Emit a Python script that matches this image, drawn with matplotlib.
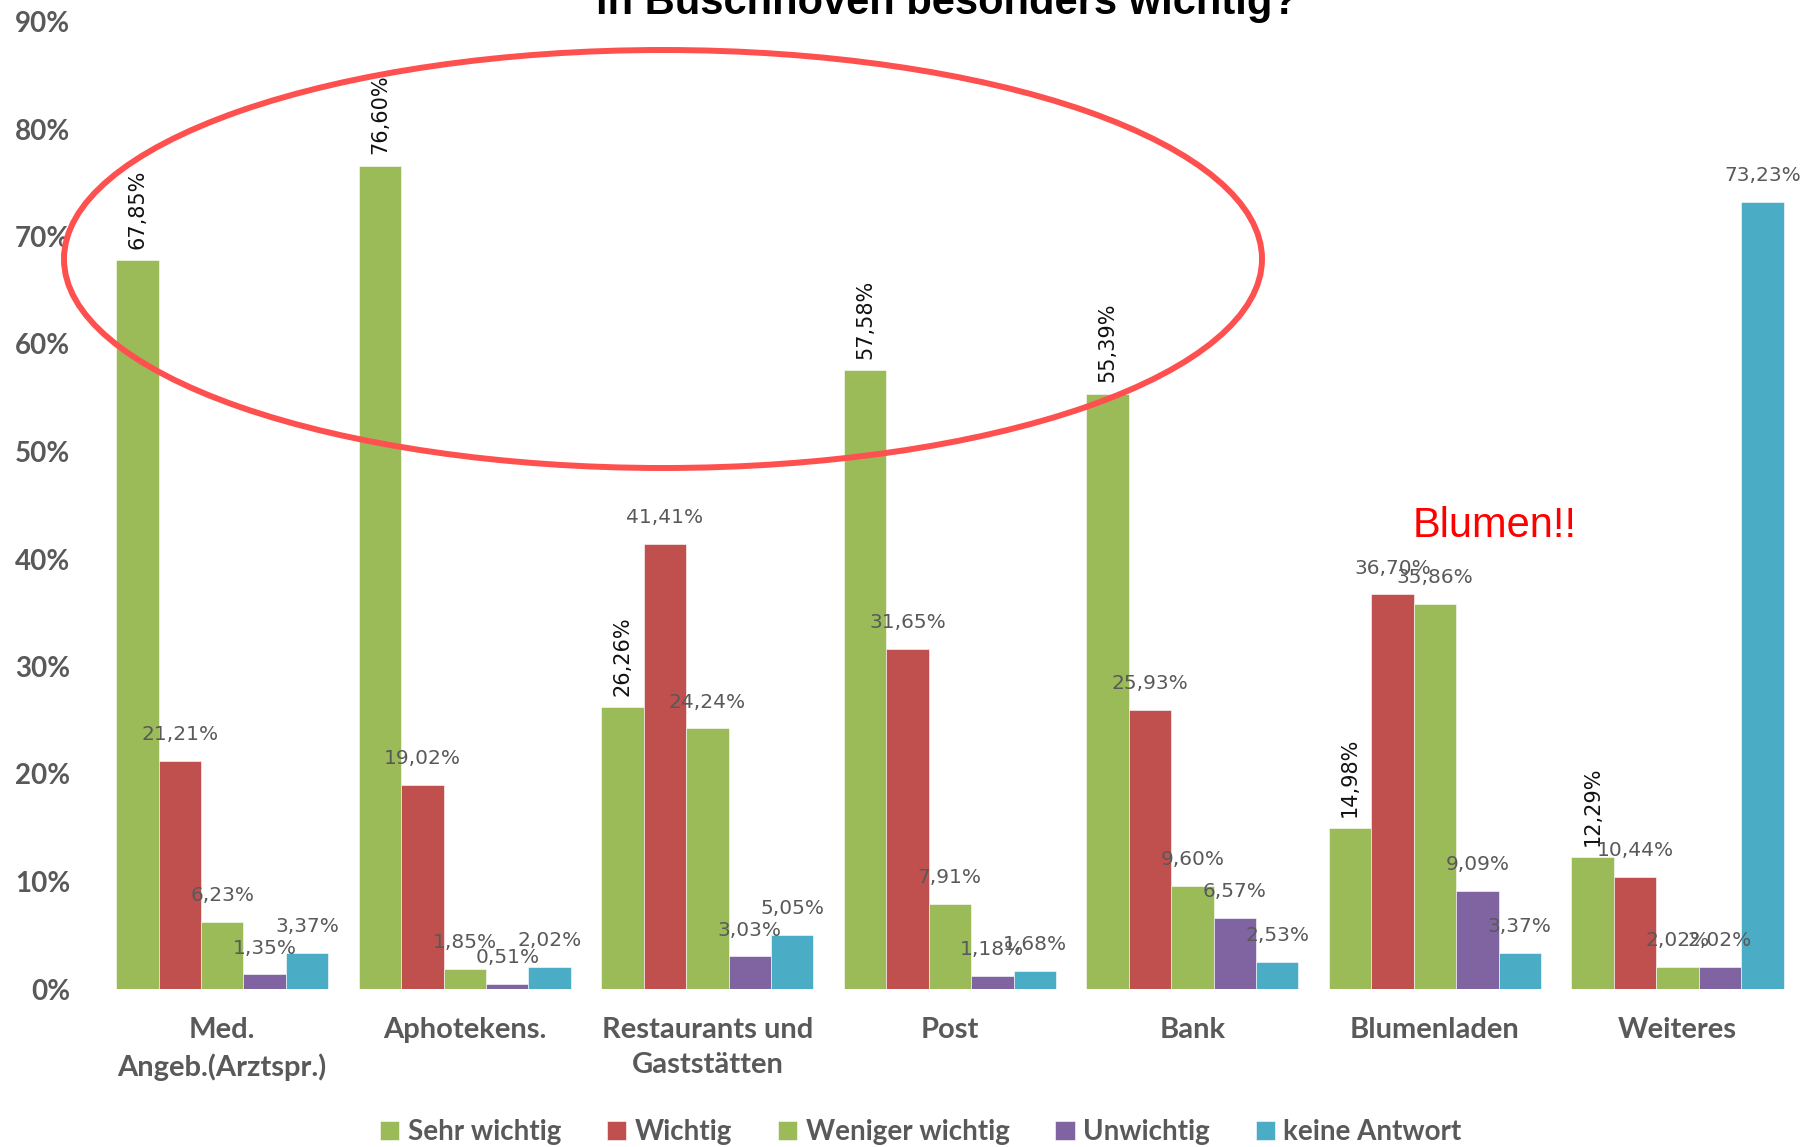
from matplotlib import pyplot as plt
from matplotlib.patches import Ellipse
import numpy as np

plt.style.use('default')

categories = ['Med.\nAngeb.(Arztspr.)', 'Aphotekens.', 'Restaurants und\nGaststätten',
              'Post', 'Bank', 'Blumenladen', 'Weiteres']
series = ['Sehr wichtig', 'Wichtig', 'Weniger wichtig', 'Unwichtig', 'keine Antwort']
sehr_wichtig = [67.85, 76.60, 26.26, 57.58, 55.39, 14.98, 12.29]
wichtig = [21.21, 19.02, 41.41, 31.65, 25.93, 36.70, 10.44]
weniger_wichtig = [6.23, 1.85, 24.24, 7.91, 9.60, 35.86, 2.02]
unwichtig = [1.35, 0.51, 3.03, 1.18, 6.57, 9.09, 2.02]
keine_antwort = [3.37, 2.02, 5.05, 1.68, 2.53, 3.37, 73.23]
colors = ['#9BBB59', '#C0504D', '#9BBB59', '#8064A2', '#4BACC6']

values = [sehr_wichtig, wichtig, weniger_wichtig, unwichtig, keine_antwort]

W, H = 1816, 1147
fig = plt.figure(figsize=(W / 100, H / 100), dpi=100)
ax = fig.add_axes([101 / W, 1 - 989 / H, (1798.7 - 101) / W, (989 - 21.5) / H])

x = np.arange(len(categories))
bw = 0.175
gray = '#595959'

for i, (name, vals, c) in enumerate(zip(series, values, colors)):
    pos = x + (i - 2) * bw
    ax.bar(pos, vals, width=bw, color=c, label=name, edgecolor='white', linewidth=0.4)
    for px, v in zip(pos, vals):
        txt = f'{v:.2f}%'.replace('.', ',')
        if i == 0:
            ax.annotate(txt, (px, v), xytext=(0, 8), textcoords='offset points',
                        rotation=90, ha='center', va='bottom', fontsize=15,
                        color='#111111', family='DejaVu Sans')
        else:
            ax.annotate(txt, (px, v), xytext=(0, 19), textcoords='offset points',
                        ha='center', va='center', fontsize=14.5, color=gray,
                        family='DejaVu Sans')

ax.set_xlim(-0.5, 6.5)
ax.set_ylim(0, 90)
ax.set_yticks(np.arange(0, 91, 10))
ax.set_yticklabels([f'{t}%' for t in range(0, 91, 10)], fontsize=20,
                   fontweight='bold', color=gray, family='Lato')
ax.set_xticks(x)
ax.set_xticklabels(categories, fontsize=21, fontweight='bold', color=gray,
                   family='Lato', linespacing=1.45)
ax.tick_params(axis='y', length=0, pad=22)
ax.tick_params(axis='x', length=0, pad=20)
for s in ax.spines.values():
    s.set_visible(False)

leg = fig.legend(loc='center', bbox_to_anchor=(0.507, 0.013), ncol=5, frameon=False,
                 handlelength=0.7, handleheight=0.7, handletextpad=0.3,
                 columnspacing=1.65, prop={'family': 'Lato', 'size': 20, 'weight': 'bold'})
for t in leg.get_texts():
    t.set_color(gray)

# title, cut at the top edge
fig.text(947 / W, 1 - 14 / H, 'in Buschhoven besonders wichtig?', ha='center',
         va='baseline', fontsize=30, fontweight='bold', family='Liberation Sans')

# red ellipse marking
ell = Ellipse((663 / W, 1 - 259 / H), 1198 / W, 418 / H, transform=fig.transFigure,
              fill=False, edgecolor='#FF5050', linewidth=4.3)
fig.patches.append(ell)

fig.text(1413 / W, 1 - 537 / H, 'Blumen!!', color='red', fontsize=30,
         family='Liberation Sans', ha='left', va='baseline')

fig.savefig('out.png', dpi=100)
